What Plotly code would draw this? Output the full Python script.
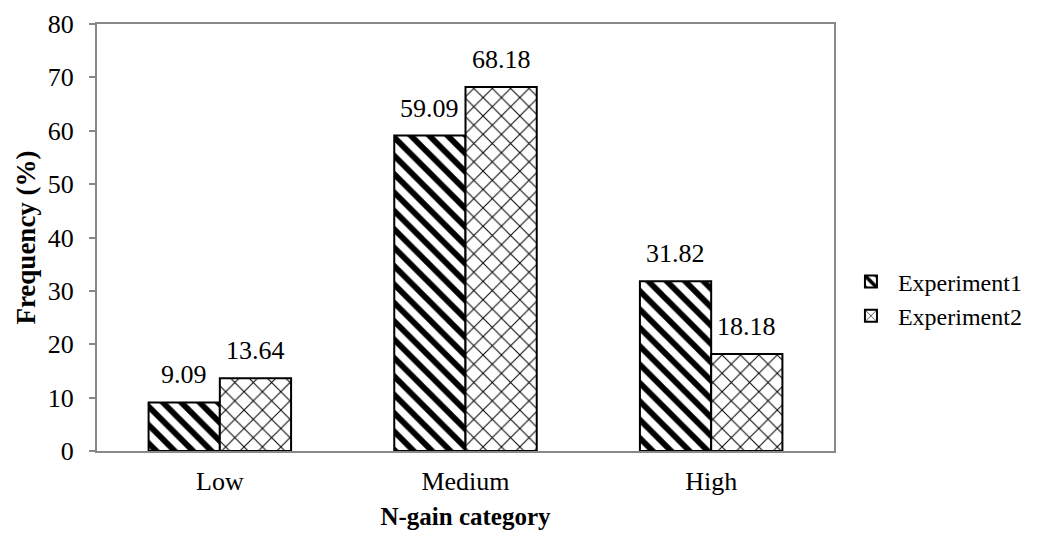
import plotly.graph_objects as go

categories = ["Low", "Medium", "High"]
exp1 = [9.09, 59.09, 31.82]
exp2 = [13.64, 68.18, 18.18]
series_names = ["Experiment1", "Experiment2"]

FONT = "Liberation Serif, Times New Roman, serif"

fig = go.Figure()
fig.add_trace(go.Bar(
    x=categories, y=exp1, name=series_names[0],
    marker=dict(color="white", line=dict(color="black", width=2),
                pattern=dict(shape="\\", fgcolor="black", fgopacity=1, bgcolor="white",
                             size=13, solidity=0.45)),
))
fig.add_trace(go.Bar(
    x=categories, y=exp2, name=series_names[1],
    marker=dict(color="white", line=dict(color="black", width=2),
                pattern=dict(shape="x", fgcolor="black", fgopacity=1, bgcolor="white",
                             size=13, solidity=0.15)),
))

# data labels above bars (shifted to each bar of the group)
BAR_HALF = 35.6
for vals, shift in ((exp1, -BAR_HALF), (exp2, BAR_HALF)):
    for c, v in zip(categories, vals):
        fig.add_annotation(x=c, y=v, text=f"{v:.2f}", showarrow=False,
                           xanchor="center", yanchor="bottom", xshift=shift, yshift=11,
                           font=dict(size=26, color="black", family=FONT))

fig.update_layout(
    width=1045, height=539,
    margin=dict(l=89, r=219, t=16, b=96, autoexpand=False),
    paper_bgcolor="white", plot_bgcolor="white",
    font=dict(family=FONT, size=24, color="black"),
    barmode="group", bargap=0.42, bargroupgap=0,
    showlegend=True,
    legend=dict(x=1.0135, y=0.356, xanchor="left", yanchor="middle",
                font=dict(size=24, family=FONT), tracegroupgap=0, itemwidth=44),
    xaxis=dict(
        title=dict(text="<b>N-gain category</b>", font=dict(size=25, family=FONT), standoff=12),
        showline=True, linecolor="#888888", linewidth=2, mirror=True, automargin=False,
        ticks="", showgrid=False, tickfont=dict(size=26, family=FONT), ticklabelstandoff=6,
    ),
    yaxis=dict(
        title=dict(text="<b>Frequency (%)</b>", font=dict(size=27, family=FONT), standoff=4),
        range=[0, 80], dtick=10, automargin=False,
        showline=True, linecolor="#888888", linewidth=2, mirror=True,
        ticks="outside", ticklen=6, tickcolor="#888888", tickwidth=1.5,
        showgrid=False, zeroline=False, tickfont=dict(size=26, family=FONT), ticklabelstandoff=10,
    ),
)

fig.write_html("out.html")
